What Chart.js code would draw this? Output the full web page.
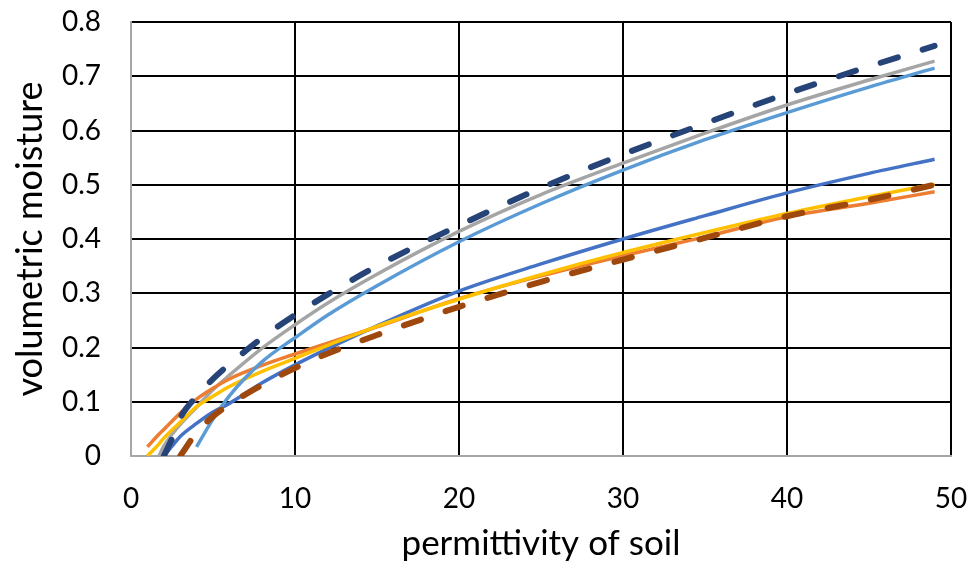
<!DOCTYPE html>
<html>
<head>
<meta charset="utf-8">
<script src="https://cdn.jsdelivr.net/npm/chart.js@4"></script>
<style>
    html, body { margin: 0; padding: 0; background: #fff; }
    #wrap { width: 974px; height: 569px; }
</style>
</head>
<body>
<div id="wrap"><canvas id="feuchte"></canvas></div>
<script>
// permittivity grid shared by all curves (null = curve not yet started)
const permittivity = [1, 1.7, 2, 2.5, 3, 4, 5, 6, 8, 10, 12, 15, 20, 25, 30, 35, 40, 45, 49];

const blueLine      = [null, null, 0, 0.018, 0.036, 0.06, 0.081, 0.097, 0.135, 0.168, 0.198, 0.24, 0.304, 0.354, 0.4, 0.443, 0.485, 0.521, 0.547];
const orangeLine    = [0.017, 0.04, 0.049, 0.064, 0.079, 0.105, 0.125, 0.142, 0.167, 0.188, 0.208, 0.238, 0.29, 0.332, 0.369, 0.404, 0.441, 0.466, 0.487];
const grayLine      = [null, 0, 0.018, 0.04, 0.058, 0.09, 0.122, 0.149, 0.199, 0.242, 0.282, 0.335, 0.414, 0.482, 0.54, 0.595, 0.647, 0.693, 0.728];
const yellowLine    = [0, 0.022, 0.033, 0.048, 0.062, 0.091, 0.11, 0.128, 0.156, 0.18, 0.204, 0.239, 0.289, 0.334, 0.375, 0.412, 0.447, 0.478, 0.501];
const lightBlueLine = [null, null, null, null, null, 0.017, 0.068, 0.111, 0.174, 0.218, 0.26, 0.314, 0.395, 0.465, 0.527, 0.583, 0.633, 0.68, 0.715];
const navyDashed    = [null, null, 0, 0.032, 0.07, 0.11, 0.142, 0.169, 0.218, 0.26, 0.298, 0.35, 0.425, 0.494, 0.556, 0.613, 0.668, 0.718, 0.756];
const brownDashed   = [null, null, null, null, 0, 0.043, 0.073, 0.095, 0.131, 0.162, 0.189, 0.223, 0.275, 0.321, 0.362, 0.402, 0.442, 0.472, 0.5];

const xTicks = [0, 10, 20, 30, 40, 50];
const yTicks = [0, 0.1, 0.2, 0.3, 0.4, 0.5, 0.6, 0.7, 0.8];

function punkte(werte) {
    return permittivity.map((x, i) => ({x: x, y: werte[i]})).filter(p => p.y !== null);
}

function linie(werte, farbe, dashed, reihenfolge) {
    return {
        data: punkte(werte),
        borderColor: farbe,
        borderWidth: dashed ? 6 : 3.5,
        borderDash: dashed ? [18, 26] : [],
        borderCapStyle: dashed ? 'round' : 'butt',
        pointRadius: 0,
        fill: false,
        cubicInterpolationMode: 'monotone',
        order: reihenfolge
    };
}

const schrift = "Lato, 'Open Sans', sans-serif";

let ctx = document.getElementById('feuchte').getContext('2d');

new Chart(ctx, {
    type: 'line',

    data: {
        datasets: [
            linie(blueLine, '#4472C4', false, 5),
            linie(orangeLine, '#ED7D31', false, 4),
            linie(grayLine, '#A5A5A5', false, 6),
            linie(yellowLine, '#FFC000', false, 3),
            linie(lightBlueLine, '#5B9BD5', false, 2),
            linie(navyDashed, '#264478', true, 1),
            linie(brownDashed, '#9E480E', true, 0)
        ]
    },

    options: {
        responsive: true,
        maintainAspectRatio: false,
        animation: false,
        events: [],
        layout: {padding: {top: 22, right: 23, left: 0, bottom: 0}},
        plugins: {legend: {display: false}, tooltip: {enabled: false}},
        scales: {
            x: {
                type: 'linear',
                min: 0,
                max: 50,
                afterBuildTicks: s => { s.ticks = xTicks.map(v => ({value: v})); },
                afterFit: s => { s.height = 113; s.paddingLeft = 0; s.paddingRight = 0; },
                grid: {color: '#000', lineWidth: 2, drawTicks: false},
                border: {color: '#A6A6A6', width: 2},
                ticks: {color: '#000', font: {family: schrift, size: 28}, padding: 26, maxRotation: 0},
                title: {display: true, text: 'permittivity of soil', color: '#000',
                        font: {family: schrift, size: 35}, padding: {top: 6}}
            },
            y: {
                min: 0,
                max: 0.8,
                afterBuildTicks: s => { s.ticks = yTicks.map(v => ({value: v})); },
                afterFit: s => { s.width = 131; s.paddingTop = 0; s.paddingBottom = 0; },
                grid: {color: '#000', lineWidth: 2, drawTicks: false},
                border: {color: '#A6A6A6', width: 2},
                ticks: {color: '#000', font: {family: schrift, size: 28}, padding: 30,
                        callback: v => String(Math.round(v * 10) / 10)},
                title: {display: true, text: 'volumetric moisture', color: '#000',
                        font: {family: schrift, size: 36}, padding: {top: 9, bottom: 0}}
            }
        }
    }
});
</script>
</body>
</html>
